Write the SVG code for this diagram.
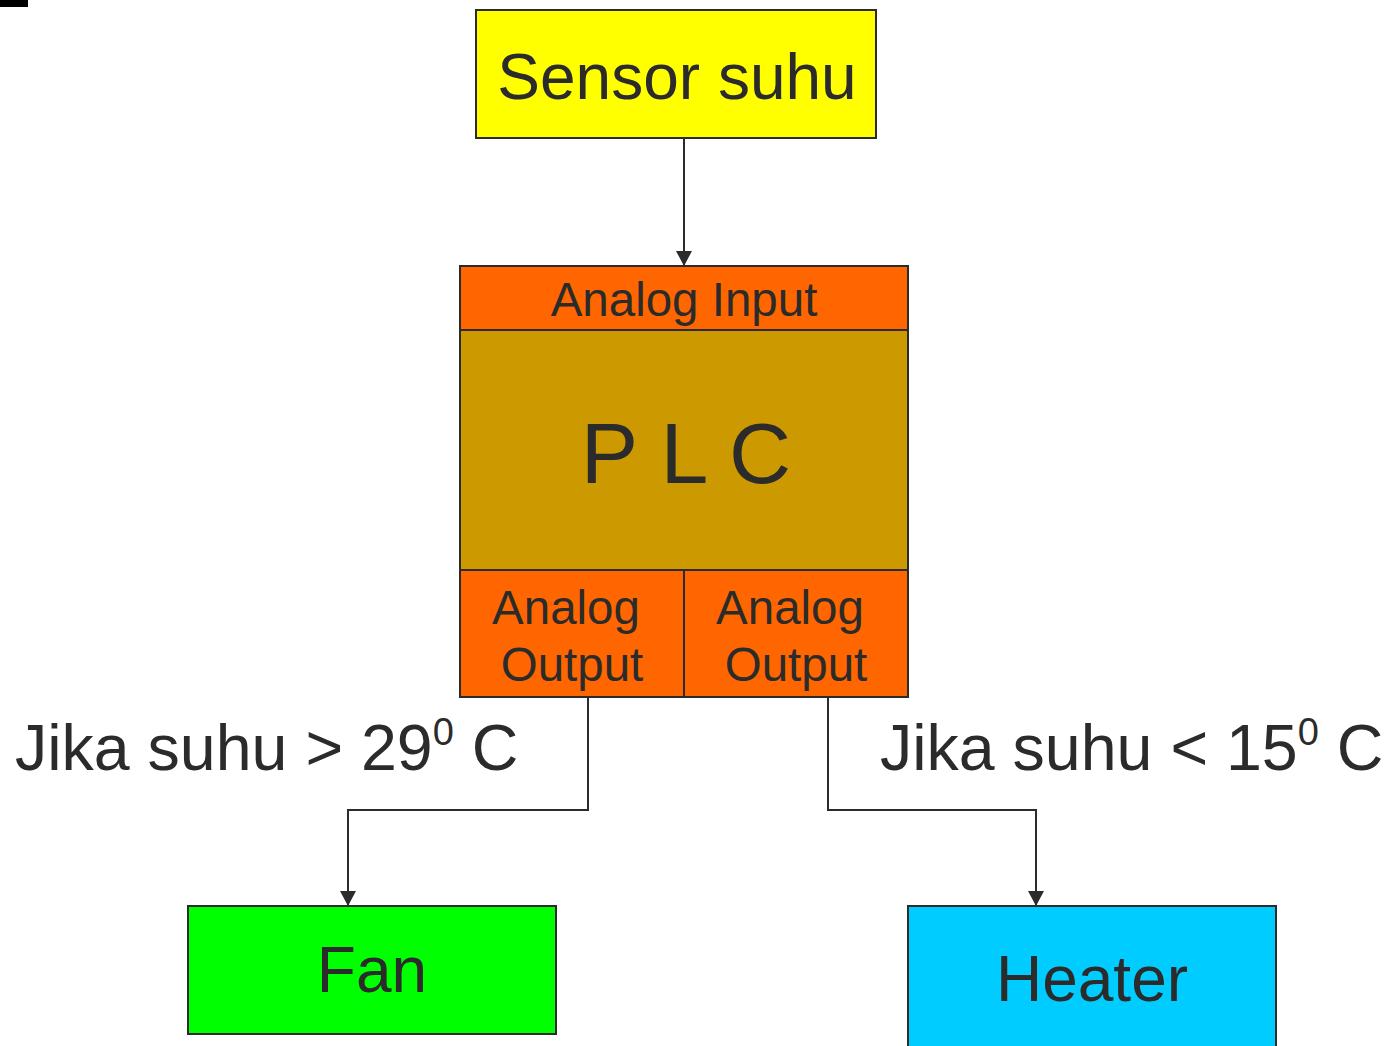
<svg xmlns="http://www.w3.org/2000/svg" width="1386" height="1046" viewBox="0 0 1386 1046">
<style>
text{font-family:"Liberation Sans",Arial,sans-serif;fill:#2b2b2b;text-anchor:middle}
.box{stroke:#2b2b2b;stroke-width:2}
.c{fill:none;stroke:#2b2b2b;stroke-width:2}
.lbl{text-anchor:start;font-size:64.5px}
</style>
<defs>
<marker id="ah" markerWidth="16" markerHeight="16" refX="14" refY="8" orient="auto" markerUnits="userSpaceOnUse">
<path d="M0,0 L15,8 L0,16 Z" fill="#2b2b2b"/>
</marker>
</defs>
<rect x="0" y="0" width="28" height="7" fill="#000"/>
<g id="sensor">
<rect class="box" x="476" y="10" width="400" height="128" fill="#FFFF00"/>
<text x="677" y="99" font-size="64">Sensor suhu</text>
</g>
<g id="plc">
<rect class="box" x="460" y="266" width="448" height="64" fill="#FF6600"/>
<text x="684" y="316" font-size="47.5">Analog Input</text>
<rect class="box" x="460" y="330" width="448" height="240" fill="#CC9900"/>
<text x="686" y="483" font-size="86">P L C</text>
<rect class="box" x="460" y="570" width="224" height="127" fill="#FF6600"/>
<rect class="box" x="684" y="570" width="224" height="127" fill="#FF6600"/>
<text x="566" y="624" font-size="47.5">Analog</text>
<text x="572" y="681" font-size="47.5">Output</text>
<text x="790" y="624" font-size="47.5">Analog</text>
<text x="796" y="681" font-size="47.5">Output</text>
</g>
<g id="fan">
<rect class="box" x="188" y="906" width="368" height="128" fill="#00FF00"/>
<text x="372" y="992" font-size="64">Fan</text>
</g>
<g id="heater">
<rect class="box" x="908" y="906" width="368" height="150" fill="#00CCFF"/>
<text x="1092" y="1001" font-size="64">Heater</text>
</g>
<g id="labels">
<text class="lbl" x="15" y="770">Jika suhu &gt; 29<tspan font-size="38" dy="-25">0</tspan><tspan dy="25"> C</tspan></text>
<text class="lbl" x="880" y="770">Jika suhu &lt; 15<tspan font-size="38" dy="-25">0</tspan><tspan dy="25"> C</tspan></text>
</g>
<g id="connectors">
<path class="c" d="M684,138 V265" marker-end="url(#ah)"/>
<path class="c" d="M588,697 V810 H348 V905" marker-end="url(#ah)"/>
<path class="c" d="M828,697 V810 H1036 V905" marker-end="url(#ah)"/>
</g>
</svg>
